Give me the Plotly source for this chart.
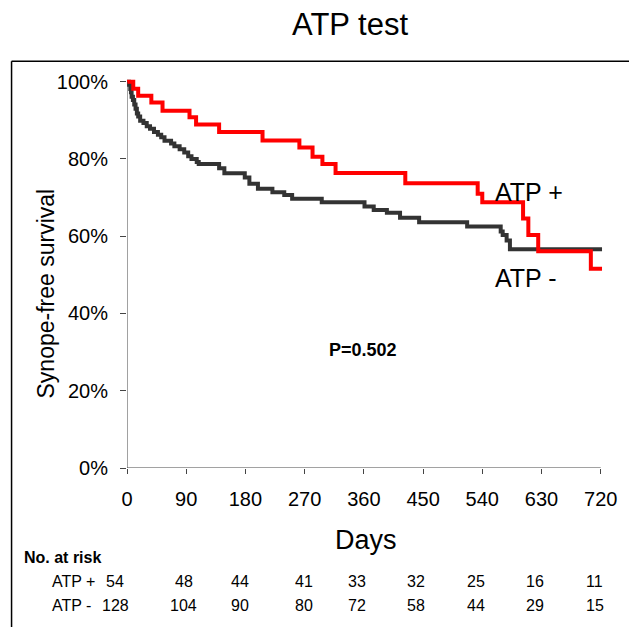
import plotly.graph_objects as go

# ---------------- data ----------------
days_pos = [0, 9.5, 17, 37, 54, 95, 105, 140, 206, 262, 282, 297, 317, 423, 533, 540, 602, 610, 625, 705, 722]
surv_pos = [100, 98.2, 96.4, 94.6, 92.5, 90.8, 88.9, 87.0, 84.8, 83.0, 80.6, 78.7, 76.4, 73.7, 71.0, 68.8, 64.6, 60.3, 56.1, 51.6, 51.6]

days_neg = [0, 3, 5, 6, 7, 9, 11, 13, 15, 17, 20, 25, 30, 35, 41, 47, 52, 57, 67, 72,
            80, 87, 93, 98, 106, 109, 140, 148, 179, 186, 199, 221, 239, 251, 296, 361, 375, 395, 415, 444,
            517, 568, 571, 577, 582, 722]
surv_neg = [100, 99.2, 98.1, 97.3, 96.1, 95.3, 94.1, 93.0, 91.8, 91.0, 89.9, 89.3, 88.5, 87.8, 87.0, 86.3, 85.6, 84.7, 84.0, 83.3,
            82.5, 81.7, 80.7, 80.0, 79.2, 78.7, 77.6, 76.3, 75.2, 73.6, 72.3, 71.4, 70.7, 69.7, 68.8, 67.7, 66.8, 66.1, 64.8, 63.6,
            62.5, 61.2, 60.3, 58.9, 56.6, 56.6]

x_ticks = [0, 90, 180, 270, 360, 450, 540, 630, 720]
y_ticks = [0, 20, 40, 60, 80, 100]
y_tick_labels = ["0%", "20%", "40%", "60%", "80%", "100%"]

risk_pos = [54, 48, 44, 41, 33, 32, 25, 16, 11]
risk_neg = [128, 104, 90, 80, 72, 58, 44, 29, 15]

# ---------------- layout geometry ----------------
W, H = 629, 627
L, B = 127, 159
XR = [0, 725]
YR = [0, 102]
PX_PER_DAY = 476 / 720
PX_PER_PCT = 386.5 / 100
PW = (XR[1] - XR[0]) * PX_PER_DAY
PH = (YR[1] - YR[0]) * PX_PER_PCT
R = W - L - PW
T = H - B - PH

def px(x):
    return (x - L) / PW

def py(y):
    return (H - B - y) / PH

FONT = "Arial, Liberation Sans, sans-serif"

fig = go.Figure()
fig.add_trace(go.Scatter(x=days_neg, y=surv_neg, mode="lines", line_shape="hv",
                         line=dict(color="#333333", width=4), showlegend=False))
fig.add_trace(go.Scatter(x=days_pos, y=surv_pos, mode="lines", line_shape="hv",
                         line=dict(color="#ff0000", width=4), showlegend=False))

ann = []
def text(x, y, s, size, bold=False, xanchor="center", angle=0):
    ann.append(dict(x=px(x), y=py(y), xref="paper", yref="paper", text=("<b>%s</b>" % s) if bold else s,
                    showarrow=False, xanchor=xanchor, yanchor="middle", textangle=angle,
                    font=dict(family=FONT, size=size, color="black")))

text(351, 24, "ATP test", 31)
text(531, 192, "ATP +", 25)
text(528, 278, "ATP -", 25)
text(364, 350, "P=0.502", 18, bold=True)
text(367, 540, "Days", 27)
text(46, 293, "Synope-free survival", 23, angle=-90)
text(21, 558, "No. at risk", 16, bold=True, xanchor="left")
text(50, 582, "ATP +", 16, xanchor="left")
text(50, 606, "ATP -", 16, xanchor="left")
risk_x_px = [115, 184, 241, 305, 358, 417, 478, 537, 597]
for xp, a, b in zip(risk_x_px, risk_pos, risk_neg):
    text(xp, 582, str(a), 16)
    text(xp, 606, str(b), 16)

shapes = [
    # outer frame (top and left edges)
    dict(type="line", xref="paper", yref="paper", x0=px(11), x1=px(640), y0=py(61), y1=py(61),
         line=dict(color="black", width=1.5)),
    dict(type="line", xref="paper", yref="paper", x0=px(11), x1=px(11), y0=py(61), y1=py(640),
         line=dict(color="black", width=1.5)),
    # axis lines
    dict(type="line", xref="x", yref="y", x0=0, x1=0, y0=0, y1=100, line=dict(color="#444444", width=1)),
    dict(type="line", xref="x", yref="y", x0=0, x1=720, y0=0, y1=0, line=dict(color="#444444", width=1)),
]

fig.update_layout(
    width=W, height=H,
    margin=dict(l=L, r=R, t=T, b=B, pad=0),
    paper_bgcolor="white", plot_bgcolor="white",
    annotations=ann, shapes=shapes,
    font=dict(family=FONT, color="black"),
    xaxis=dict(range=XR, tickvals=x_ticks, ticks="outside", ticklen=5, tickcolor="#444444",
               showline=False, showgrid=False, zeroline=False,
               tickfont=dict(size=20, family=FONT, color="black"), ticklabelstandoff=8),
    yaxis=dict(range=YR, tickvals=y_ticks, ticktext=y_tick_labels, ticks="outside", ticklen=6,
               tickcolor="#444444", showline=False, showgrid=False, zeroline=False,
               tickfont=dict(size=20, family=FONT, color="black"), ticklabelstandoff=8),
)

fig.write_html("out.html", config={"displayModeBar": False},
               post_script="document.body.style.margin='0';document.body.style.overflow='hidden';")
